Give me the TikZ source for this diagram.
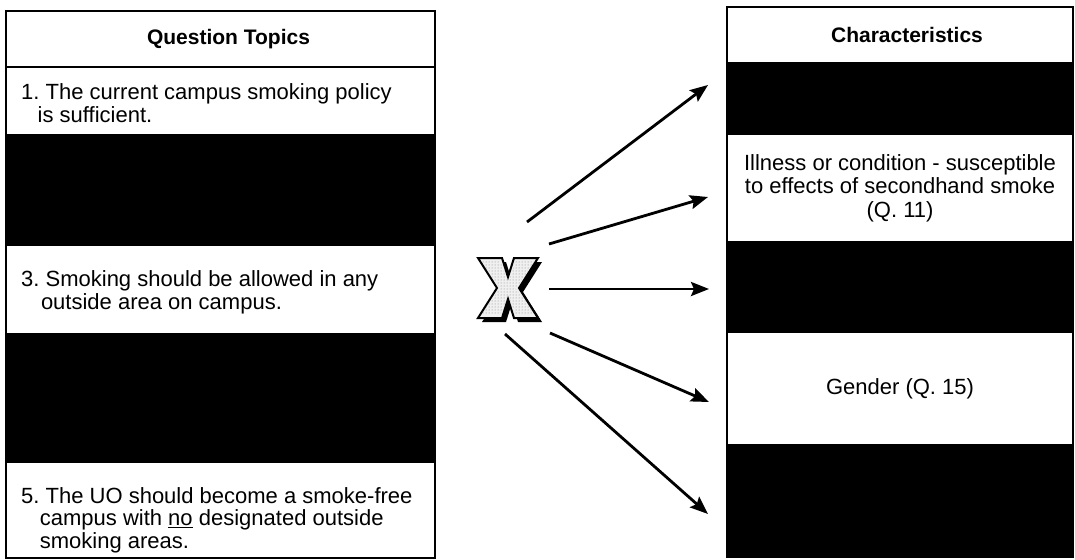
\documentclass[tikz,border=0pt]{standalone}
\usepackage{fontspec}
\setmainfont{Liberation Sans}
\usetikzlibrary{positioning, arrows.meta, patterns}
\frenchspacing

\tikzset{
  lrow/.style={draw, line width=1.2pt, fill=white, minimum width=429pt, inner sep=0pt},
  rrow/.style={draw, line width=1.2pt, fill=white, minimum width=346pt, inner sep=0pt},
  darkrow/.style={fill=black},
  headtext/.style={font=\fontsize{21}{23}\selectfont\bfseries},
  qtext/.style={font=\fontsize{22}{22.5}\selectfont, align=left, inner sep=0pt},
  ctext/.style={font=\fontsize{22}{23.5}\selectfont, align=center, inner sep=0pt},
  link/.style={line width=2.8pt, -{Stealth[length=18pt, width=14pt, inset=3pt]}}
}

\begin{document}
\begin{tikzpicture}[x=1pt, y=-1pt]
\useasboundingbox (0,0) rectangle (1075,559);

% question topics
\node[lrow, minimum height=56pt] (lhead) at (220.5,39) {};
\node[lrow, minimum height=68pt] (l1) at (220.5,101) {};
\node[lrow, darkrow, minimum height=110pt] (l2) at (220.5,190) {};
\node[lrow, minimum height=89pt] (l3) at (220.5,289.5) {};
\node[lrow, darkrow, minimum height=128pt] (l4) at (220.5,398) {};
\node[lrow, minimum height=96pt] (l5) at (220.5,510) {};

\node[headtext] (lt) at ([xshift=8pt]lhead.center) {Question Topics};
\node[qtext, anchor=west] (q1) at (21,103) {1. The current campus smoking policy\\\hspace*{0.75em}is sufficient.};
\node[qtext, anchor=west] (q3) at (21,292.5) {3. Smoking should be allowed in any\\\hspace*{0.9em}outside area on campus.};
\node[qtext, anchor=west] (q5) at (21,520) {5. The UO should become a smoke-free\\\hspace*{0.85em}campus with \underline{no} designated outside\\\hspace*{0.85em}smoking areas.};

% characteristics
\node[rrow, minimum height=56pt] (rhead) at (900,35) {};
\node[rrow, darkrow, minimum height=71pt] (r1) at (900,98.5) {};
\node[rrow, minimum height=108pt] (r2) at (900,188) {};
\node[rrow, darkrow, minimum height=90pt] (r3) at (900,287) {};
\node[rrow, minimum height=113pt] (r4) at (900,388.5) {};
\node[rrow, darkrow, minimum height=112pt] (r5) at (900,501) {};

\node[headtext] (rt) at ([xshift=7pt]rhead.center) {Characteristics};
\node[ctext] (c2) at (r2) {Illness or condition - susceptible\\to effects of secondhand smoke\\(Q. 11)};
\node[ctext] (c4) at (r4) {Gender (Q. 15)};

% the cross
\coordinate (cross) at (508,288);
\fill[shift={(cross)}, xshift=4pt, yshift=-4pt]
  (-30,-30) -- (-6,-30) -- (0,-11) -- (6,-30) -- (30,-30) -- (11,0) -- (30,30)
  -- (6,30) -- (0,11) -- (-6,30) -- (-30,30) -- (-11,0) -- cycle;
\draw[shift={(cross)}, line width=2pt, fill=gray!12]
  (-30,-30) -- (-6,-30) -- (0,-11) -- (6,-30) -- (30,-30) -- (11,0) -- (30,30)
  -- (6,30) -- (0,11) -- (-6,30) -- (-30,30) -- (-11,0) -- cycle;
\fill[shift={(cross)}, pattern=dots, pattern color=gray]
  (-27,-27) -- (-8,-27) -- (0,-7) -- (8,-27) -- (27,-27) -- (8,0) -- (27,27)
  -- (8,27) -- (0,7) -- (-8,27) -- (-27,27) -- (-8,0) -- cycle;

\coordinate (s1) at (527,222);
\coordinate (s2) at (549,244);
\coordinate (s3) at (549,289);
\coordinate (s4) at (550,333);
\coordinate (s5) at (505,334);
\coordinate (e1) at (708,85);
\coordinate (e2) at (708,197);
\coordinate (e3) at (709,289);
\coordinate (e4) at (709,402);
\coordinate (e5) at (708,514);

\draw[link] (s1) -- (e1);
\draw[link] (s2) -- (e2);
\draw[link] (s3) -- (e3);
\draw[link] (s4) -- (e4);
\draw[link] (s5) -- (e5);
\end{tikzpicture}
\end{document}
